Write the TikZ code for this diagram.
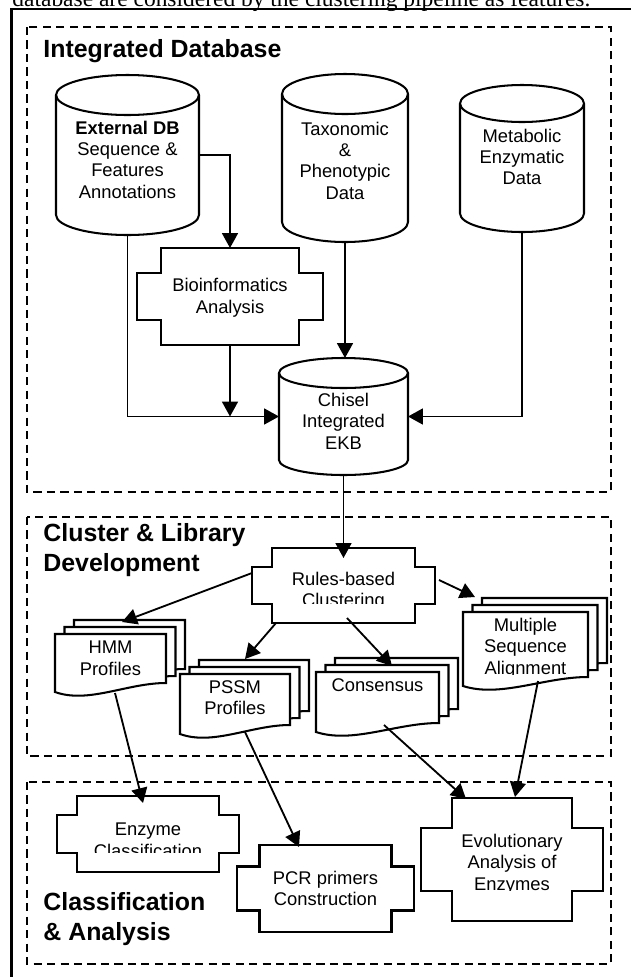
\documentclass[tikz,border=0pt]{standalone}
\usepackage{fontspec}
\setmainfont{Liberation Serif}
\setsansfont{Liberation Sans}
\usetikzlibrary{arrows.meta}
\newcommand{\px}{0.49pt}
\tikzset{
  outline/.style ={draw=black, line width=1pt},
  zone/.style    ={draw=black, line width=0.9pt, dash pattern=on 4pt off 2.6pt},
  frame/.style   ={draw=black, line width=1pt},
  core/.style    ={inner sep=0pt, outer sep=0pt},
  lbl/.style     ={font=\sffamily\fontsize{9}{10.4}\selectfont, align=center, inner sep=0pt, anchor=base},
  head/.style    ={font=\sffamily\bfseries\fontsize{12.2}{14.7}\selectfont, align=left, inner sep=0pt, anchor=base west},
  caption/.style ={font=\rmfamily\fontsize{11.5}{13}\selectfont, inner sep=0pt, anchor=base west},
  flow/.style    ={-{Triangle[length=7.3pt,width=7.8pt]}, line width=0.9pt},
}
% database drum: name, centre x, top, bottom, x radius, y radius
\newcommand{\dbcyl}[6]{%
  \draw[outline] ({#2-#5},{#3+#6}) -- ({#2-#5},{#4-#6})
    arc[start angle=180, end angle=0, x radius=#5, y radius=#6] -- ({#2+#5},{#3+#6});
  \draw[outline] (#2,{#3+#6}) ellipse [x radius=#5, y radius=#6];
  \node[core, minimum width={2*#5*\px}, minimum height={(#4-#3)*\px}] (#1) at (#2,{(#3+#4)/2}) {};}
% process box with cut corners: name, cx, cy, width, height, notch x, notch y
\newcommand{\stepnode}[7]{%
  \begin{scope}[shift={(#2,#3)}]
    \draw[outline] ({-#4/2+#6},{-#5/2}) -- ({#4/2-#6},{-#5/2}) -- ({#4/2-#6},{-#5/2+#7})
      -- ({#4/2},{-#5/2+#7}) -- ({#4/2},{#5/2-#7}) -- ({#4/2-#6},{#5/2-#7}) -- ({#4/2-#6},{#5/2})
      -- ({-#4/2+#6},{#5/2}) -- ({-#4/2+#6},{#5/2-#7}) -- ({-#4/2},{#5/2-#7})
      -- ({-#4/2},{-#5/2+#7}) -- ({-#4/2+#6},{-#5/2+#7}) -- cycle;
  \end{scope}
  \node[core, minimum width={#4*\px}, minimum height={#5*\px}] (#1) at (#2,#3) {};}
% stack of three sheets: name, x0, y0 (front sheet top left), width, height
\newcommand{\docstack}[5]{%
  \foreach \k in {2,1,0}{
    \begin{scope}[shift={({9.5*\k},{-7*\k})}]
      \draw[outline, fill=white] (#2,#3) -- ({#2+#4},#3) -- ({#2+#4},{#3+#5})
        .. controls ({#2+0.65*#4},{#3+#5}) and ({#2+0.3*#4},{#3+#5+21}) .. (#2,{#3+#5+9}) -- cycle;
    \end{scope}}
  \node[core, minimum width={#4*\px}, minimum height={#5*\px}] (#1) at ({#2+#4/2},{#3+#5/2}) {};}

\begin{document}
\begin{tikzpicture}[x=\px, y=-\px]
  \useasboundingbox (0,0) rectangle (631,977);
  % page text above the figure
  \node[caption] (cap) at (12,6.5) {database are considered by the clustering pipeline as features.};
  \draw[frame] (11.5,9) rectangle (700,1050);
  % three stages
  \draw[zone] (27,27) rectangle (611,492);
  \draw[zone] (27,517) rectangle (611,756);
  \draw[zone] (27,782) rectangle (611,964);
  \node[head] (h-db) at (43,57) {Integrated Database};
  \node[head] (h-cl) at (43,571.7) {Cluster \& Library\\Development};
  \node[head] (h-ca) at (43,940) {Classification\\\& Analysis};
  % sources and integrated store
  \dbcyl{ext}{127.5}{75}{235}{71.5}{20}
  \dbcyl{tax}{345}{74}{242}{63}{20}
  \dbcyl{met}{522}{85}{232}{62}{18.5}
  \dbcyl{ekb}{343.5}{358}{475}{64.5}{15}
  \node[lbl] (ext-t) at (127.5,198) {\textbf{External DB}\\Sequence \&\\Features\\Annotations};
  \node[lbl] (tax-t) at (345,199) {Taxonomic\\\&\\Phenotypic\\Data};
  \node[lbl] (met-t) at (522,184.5) {Metabolic\\Enzymatic\\Data};
  \node[lbl] (ekb-t) at (343.5,449) {Chisel\\Integrated\\EKB};
  % processes
  \stepnode{bio}{230}{296.5}{186}{97}{24}{25}
  \stepnode{rules}{343.5}{585.5}{183}{75}{20}{19}
  \stepnode{enz}{148}{834}{182}{76}{20}{19}
  \stepnode{pcr}{325.5}{888.5}{177}{87}{22.5}{21.5}
  \stepnode{evol}{512}{859.5}{182}{123}{31}{30}
  \node[lbl] (bio-t) at (230,313) {Bioinformatics\\Analysis};
  \begin{scope}
    \clip (rules.north west) rectangle ([shift={(0,-19.5)}]rules.south east);
    \node[lbl] (rules-t) at (343.5,606.8) {Rules-based\\Clustering};
  \end{scope}
  \begin{scope}
    \clip (enz.north west) rectangle ([shift={(0,-19.5)}]enz.south east);
    \node[lbl] (enz-t) at (148,857) {Enzyme\\Classification};
  \end{scope}
  \node[lbl] (pcr-t) at (325.5,905.8) {PCR primers\\Construction};
  \begin{scope}
    \clip (evol.north west) rectangle ([shift={(0,-31)}]evol.south east);
    \node[lbl] (evol-t) at (512,890) {Evolutionary\\Analysis of\\Enzymes};
  \end{scope}
  % libraries
  \docstack{hmm}{55}{634}{111}{49}
  \docstack{pssm}{180}{674}{110}{51}
  \docstack{cons}{316}{672}{123}{51}
  \docstack{msa}{463}{612}{125}{65}
  \node[lbl] (hmm-t) at (110.5,675) {HMM\\Profiles};
  \node[lbl] (pssm-t) at (235,714.8) {PSSM\\Profiles};
  \node[lbl] (cons-t) at (377.5,691.6) {Consensus};
  \begin{scope}
    \clip (msa.north west) rectangle ([shift={(0,-3)}]msa.south east);
    \node[lbl] (msa-t) at (525.5,674) {Multiple\\Sequence\\Alignment};
  \end{scope}
  % connectors
  \draw[flow] (ext.east) -| (bio.north);
  \draw[flow] (ext.south) |- (ekb.west);
  \draw[flow] (bio.south) -- (bio.south |- ekb.west);
  \draw[flow] (tax.south) -- (tax.south |- ekb.north);
  \draw[flow] (met.south) |- (ekb.east);
  \draw[flow] (ekb.south) -- ([shift={(0,10)}]rules.north);
  \draw[flow] ([shift={(0,-12.5)}]rules.west) -- ([shift={(11.5,-12)}]hmm.north);
  \draw[flow] ([shift={(24,0)}]rules.south west) -- ([shift={(10,-15)}]pssm.north);
  \draw[flow] ([shift={(3.5,-5)}]rules.south) -- ([shift={(14.5,-6)}]cons.north);
  \draw[flow] ([shift={(4,-5.5)}]rules.east) -- ([shift={(-50.5,-15)}]msa.north);
  \draw[flow] ([shift={(4.5,10)}]hmm.south) -- ([shift={(-5,7)}]enz.north);
  \draw[flow] ([shift={(10,7)}]pssm.south) -- ([shift={(-26.5,2)}]pcr.north);
  \draw[flow] ([shift={(6.5,2)}]cons.south) -- ([shift={(-46,1)}]evol.north);
  \draw[flow] ([shift={(12.5,4)}]msa.south) -- ([shift={(3,-1)}]evol.north);
\end{tikzpicture}
\end{document}
